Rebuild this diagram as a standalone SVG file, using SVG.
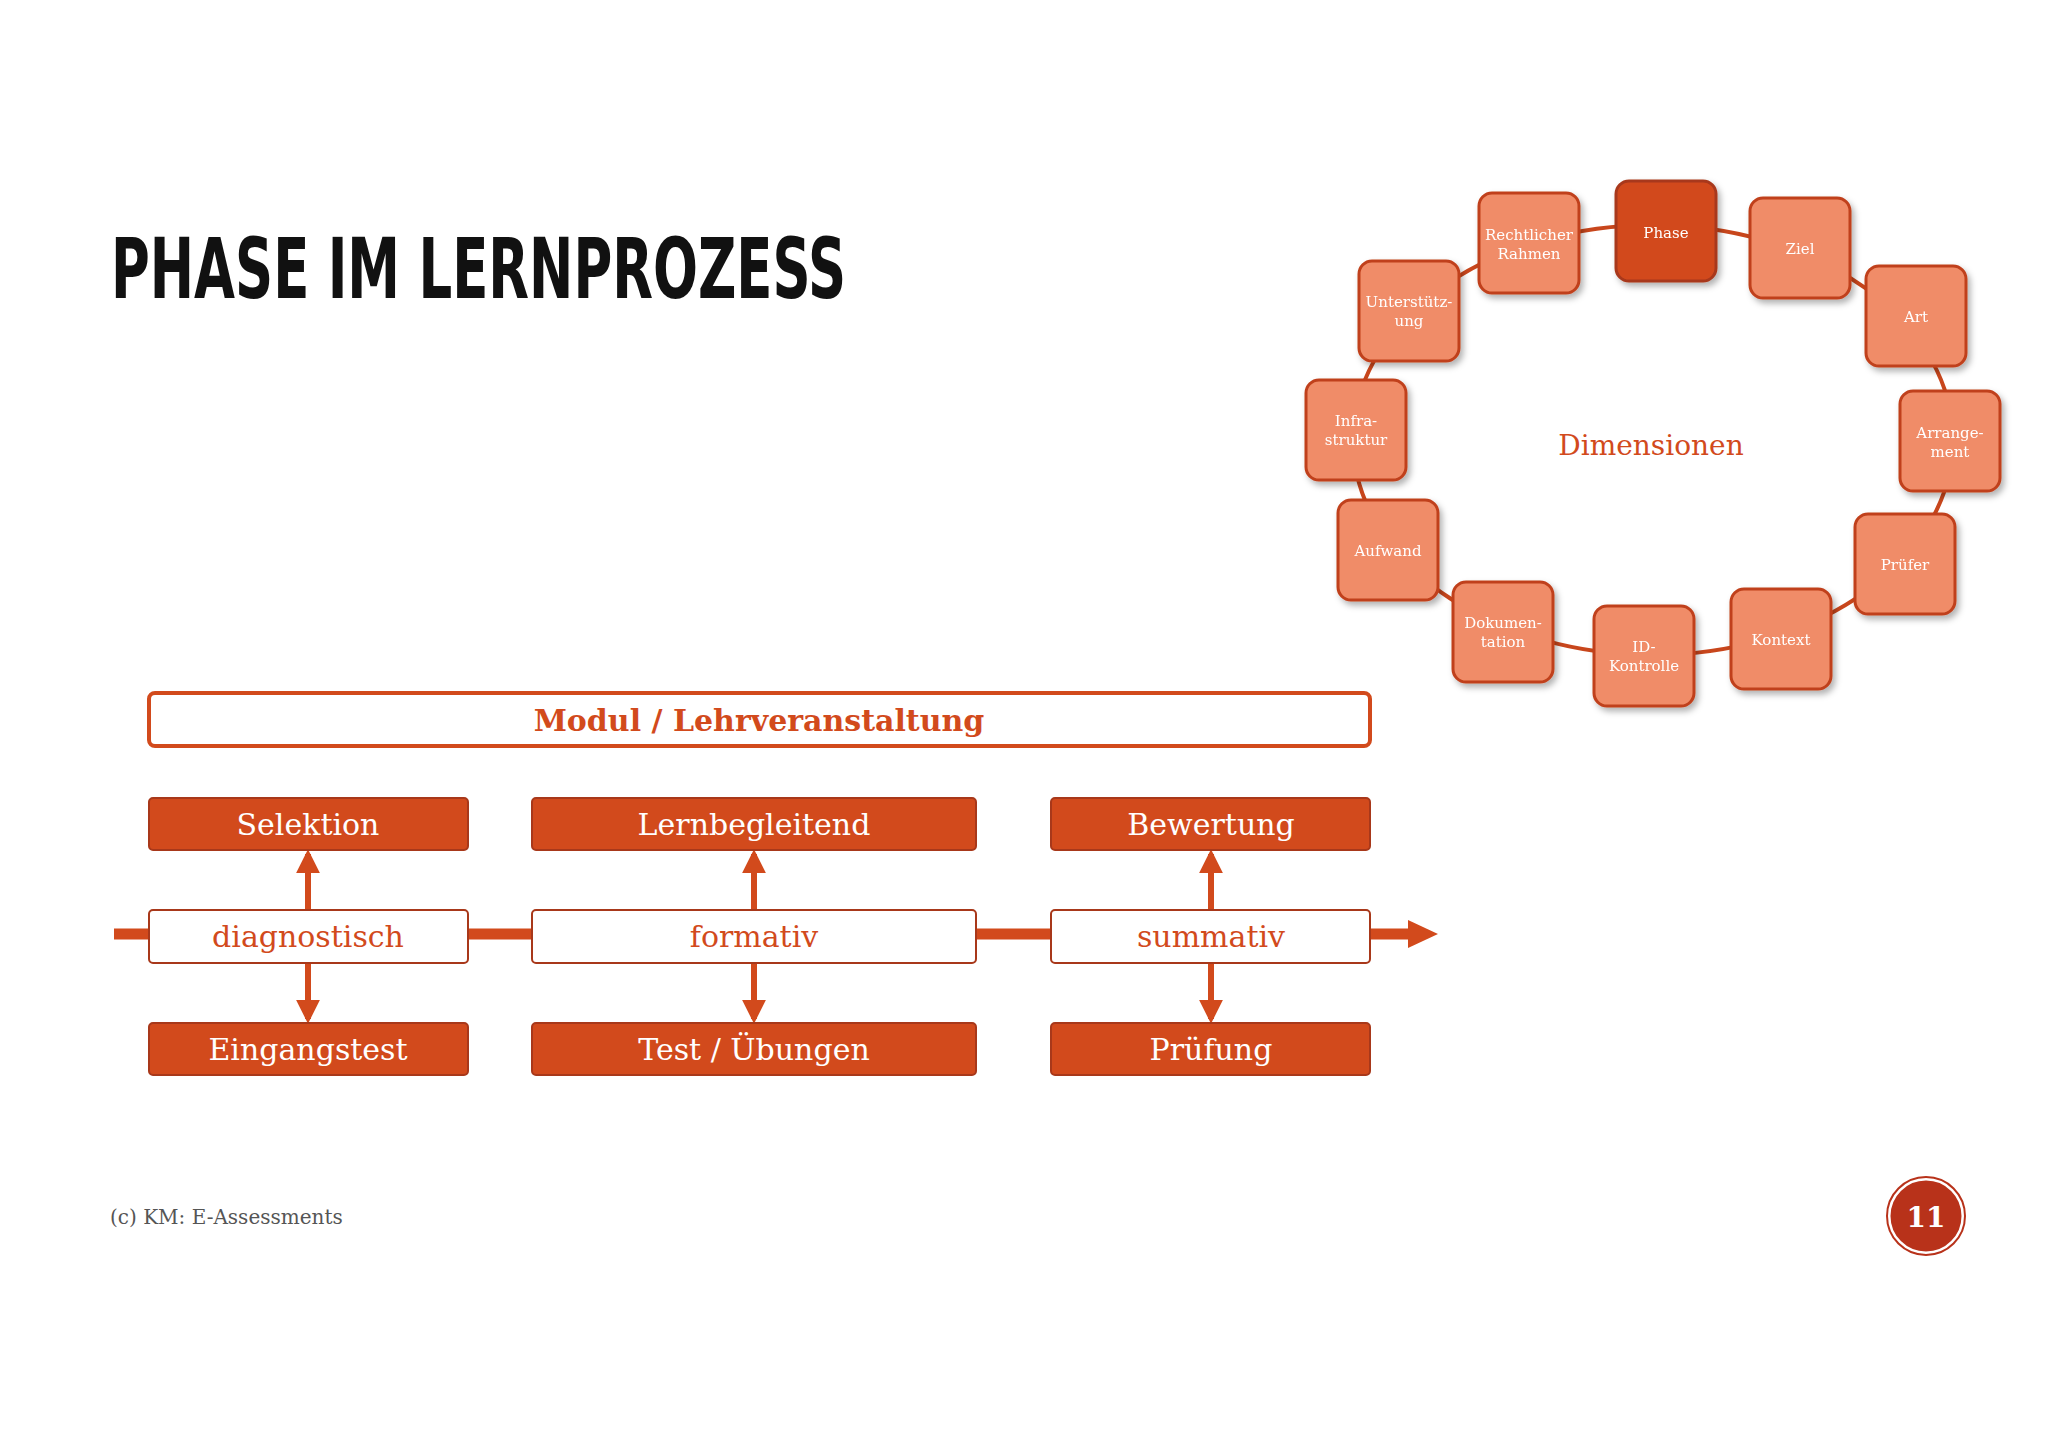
<svg xmlns="http://www.w3.org/2000/svg" width="2048" height="1447" viewBox="0 0 2048 1447">
<defs>
<filter id="sh" x="-20%" y="-20%" width="150%" height="150%"><feDropShadow dx="3" dy="4" stdDeviation="3" flood-color="#000" flood-opacity="0.3"/></filter>
<marker id="ah" viewBox="0 0 10 10" refX="8" refY="5" markerWidth="4" markerHeight="4" orient="auto"><path d="M0,0L10,5L0,10z" fill="#d24a1c"/></marker>
</defs>
<style>
.c{fill:#f08c68;stroke:#c0401a;stroke-width:3}
.ct{font-family:"DejaVu Serif",serif;font-size:15px;fill:#fff;text-anchor:middle}
.f{fill:#d24a1c;stroke:#a8381a;stroke-width:2}
.w{fill:#fff;stroke:#a8381a;stroke-width:2}
.ft{font-family:"DejaVu Serif",serif;font-size:30px;fill:#fff;text-anchor:middle}
.wt{font-family:"DejaVu Serif",serif;font-size:30px;fill:#d24a1c;text-anchor:middle}
.cn{stroke:#c8461c;stroke-width:4;fill:none}
.ar{stroke:#d24a1c;stroke-width:6;marker-end:url(#ah)}
</style>
<rect width="2048" height="1447" fill="#fff"/>
<text x="111" y="298" font-family="DejaVu Sans Condensed,sans-serif" font-weight="bold" font-size="84" textLength="735" lengthAdjust="spacingAndGlyphs" fill="#111">PHASE IM LERNPROZESS</text>
<g id="connectors">
<ellipse cx="1653" cy="440" rx="300" ry="215" class="cn"/>
<line x1="114" y1="934" x2="1410" y2="934" stroke="#d24a1c" stroke-width="11"/>
<path d="M1408,920L1438,934L1408,948z" fill="#d24a1c"/>
<line x1="308" y1="910" x2="308" y2="854" class="ar"/>
<line x1="308" y1="963" x2="308" y2="1019" class="ar"/>
<line x1="754" y1="910" x2="754" y2="854" class="ar"/>
<line x1="754" y1="963" x2="754" y2="1019" class="ar"/>
<line x1="1211" y1="910" x2="1211" y2="854" class="ar"/>
<line x1="1211" y1="963" x2="1211" y2="1019" class="ar"/>
</g>
<g id="cycle" filter="url(#sh)">
<g id="n-phase"><rect x="1616" y="181" width="100" height="100" rx="13" fill="#d24a1c" stroke="#a8381a" stroke-width="3"/><text x="1666" y="238" class="ct">Phase</text></g>
<g id="n-recht"><rect x="1479" y="193" width="100" height="100" rx="13" class="c"/><text x="1529" y="240" class="ct">Rechtlicher</text><text x="1529" y="259" class="ct">Rahmen</text></g>
<g id="n-ziel"><rect x="1750" y="198" width="100" height="100" rx="13" class="c"/><text x="1800" y="254" class="ct">Ziel</text></g>
<g id="n-art"><rect x="1866" y="266" width="100" height="100" rx="13" class="c"/><text x="1916" y="322" class="ct">Art</text></g>
<g id="n-arr"><rect x="1900" y="391" width="100" height="100" rx="13" class="c"/><text x="1950" y="438" class="ct">Arrange-</text><text x="1950" y="457" class="ct">ment</text></g>
<g id="n-pruefer"><rect x="1855" y="514" width="100" height="100" rx="13" class="c"/><text x="1905" y="570" class="ct">Prüfer</text></g>
<g id="n-kontext"><rect x="1731" y="589" width="100" height="100" rx="13" class="c"/><text x="1781" y="645" class="ct">Kontext</text></g>
<g id="n-id"><rect x="1594" y="606" width="100" height="100" rx="13" class="c"/><text x="1644" y="652" class="ct">ID-</text><text x="1644" y="671" class="ct">Kontrolle</text></g>
<g id="n-doku"><rect x="1453" y="582" width="100" height="100" rx="13" class="c"/><text x="1503" y="628" class="ct">Dokumen-</text><text x="1503" y="647" class="ct">tation</text></g>
<g id="n-aufwand"><rect x="1338" y="500" width="100" height="100" rx="13" class="c"/><text x="1388" y="556" class="ct">Aufwand</text></g>
<g id="n-infra"><rect x="1306" y="380" width="100" height="100" rx="13" class="c"/><text x="1356" y="426" class="ct">Infra-</text><text x="1356" y="445" class="ct">struktur</text></g>
<g id="n-unter"><rect x="1359" y="261" width="100" height="100" rx="13" class="c"/><text x="1409" y="307" class="ct">Unterstütz-</text><text x="1409" y="326" class="ct">ung</text></g>
</g>
<text x="1651" y="455" font-family="DejaVu Serif,serif" font-size="28" fill="#d24a1c" text-anchor="middle">Dimensionen</text>
<g id="modul"><rect x="149" y="693" width="1221" height="53" rx="6" fill="#fff" stroke="#d24a1c" stroke-width="4"/><text x="759" y="731" font-family="DejaVu Serif,serif" font-weight="bold" font-size="30" fill="#d24a1c" text-anchor="middle">Modul / Lehrveranstaltung</text></g>
<g id="selektion"><rect x="149" y="798" width="319" height="52" rx="4" class="f"/><text x="308" y="835" class="ft">Selektion</text></g>
<g id="lernbegleitend"><rect x="532" y="798" width="444" height="52" rx="4" class="f"/><text x="754" y="835" class="ft">Lernbegleitend</text></g>
<g id="bewertung"><rect x="1051" y="798" width="319" height="52" rx="4" class="f"/><text x="1211" y="835" class="ft">Bewertung</text></g>
<g id="diagnostisch"><rect x="149" y="910" width="319" height="53" rx="4" class="w"/><text x="308" y="947" class="wt">diagnostisch</text></g>
<g id="formativ"><rect x="532" y="910" width="444" height="53" rx="4" class="w"/><text x="754" y="947" class="wt">formativ</text></g>
<g id="summativ"><rect x="1051" y="910" width="319" height="53" rx="4" class="w"/><text x="1211" y="947" class="wt">summativ</text></g>
<g id="eingangstest"><rect x="149" y="1023" width="319" height="52" rx="4" class="f"/><text x="308" y="1060" class="ft">Eingangstest</text></g>
<g id="test"><rect x="532" y="1023" width="444" height="52" rx="4" class="f"/><text x="754" y="1060" class="ft">Test / Übungen</text></g>
<g id="pruefung"><rect x="1051" y="1023" width="319" height="52" rx="4" class="f"/><text x="1211" y="1060" class="ft">Prüfung</text></g>
<text x="110" y="1224" font-family="DejaVu Serif,serif" font-size="20" fill="#555">(c) KM: E-Assessments</text>
<g id="page"><circle cx="1926" cy="1216" r="37" fill="#b8321a" stroke="#fff" stroke-width="3"/><circle cx="1926" cy="1216" r="39" fill="none" stroke="#b8321a" stroke-width="2"/><text x="1926" y="1227" font-family="DejaVu Serif,serif" font-weight="bold" font-size="28" fill="#fff" text-anchor="middle">11</text></g>
</svg>
